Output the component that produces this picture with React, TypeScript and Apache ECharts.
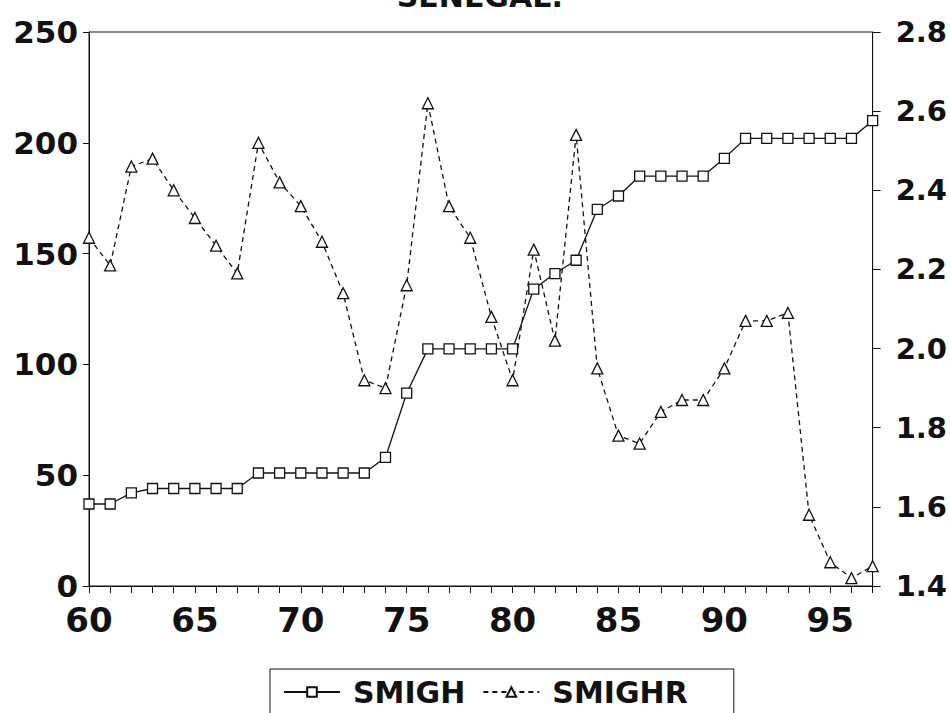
import React, { useEffect, useRef } from "react";
import * as echarts from "echarts";

const years = [60, 61, 62, 63, 64, 65, 66, 67, 68, 69, 70, 71, 72, 73, 74, 75, 76, 77, 78, 79, 80, 81, 82, 83, 84, 85, 86, 87, 88, 89, 90, 91, 92, 93, 94, 95, 96, 97];
const smigh = [37, 37, 42, 44, 44, 44, 44, 44, 51, 51, 51, 51, 51, 51, 58, 87, 107, 107, 107, 107, 107, 134, 141, 147, 170, 176, 185, 185, 185, 185, 193, 202, 202, 202, 202, 202, 202, 210];
const smighr = [2.28, 2.21, 2.46, 2.48, 2.40, 2.33, 2.26, 2.19, 2.52, 2.42, 2.36, 2.27, 2.14, 1.92, 1.90, 2.16, 2.62, 2.36, 2.28, 2.08, 1.92, 2.25, 2.02, 2.54, 1.95, 1.78, 1.76, 1.84, 1.87, 1.87, 1.95, 2.07, 2.07, 2.09, 1.58, 1.46, 1.42, 1.45];
const seriesNames = ["SMIGH", "SMIGHR"];
const titleText = "SENEGAL:";

const FONT = "DejaVu Sans";

export default function App() {
  const ref = useRef<HTMLDivElement>(null);
  useEffect(() => {
    if (!ref.current) return;
    const chart = echarts.init(ref.current, null, { renderer: "svg" });
    const labelStyle = { color: "#111", fontFamily: FONT, fontWeight: "bold" as const, fontSize: 31 };
    chart.setOption({
      animation: false,
      backgroundColor: "#fff",
      title: {
        text: titleText,
        left: 475,
        textAlign: "center",
        top: -24,
        textStyle: { color: "#111", fontFamily: FONT, fontWeight: "bold", fontSize: 30 },
      },
      grid: { left: 89, right: 77, top: 32, bottom: 127, show: true, borderColor: "#111", borderWidth: 1, backgroundColor: "transparent" },
      legend: {
        left: 270,
        top: 669,
        orient: "horizontal",
        data: seriesNames,
        borderColor: "#111",
        borderWidth: 1,
        borderRadius: 0,
        padding: [8, 46, 30, 13],
        itemWidth: 56,
        itemHeight: 12,
        itemGap: 17,
        textStyle: { color: "#111", fontFamily: FONT, fontWeight: "bold", fontSize: 30, padding: [0, 0, 0, 8] },
      },
      xAxis: {
        type: "value",
        min: 60,
        max: 97,
        interval: 1,
        axisLine: { show: true, lineStyle: { color: "#111", width: 1 } },
        axisTick: { show: true, inside: false, length: 7, lineStyle: { color: "#111" } },
        splitLine: { show: false },
        axisLabel: {
          ...labelStyle,
          fontSize: 34,
          margin: 17,
          formatter: (v: number) => (v % 5 === 0 ? String(v) : ""),
        },
      },
      yAxis: [
        {
          type: "value",
          min: 0,
          max: 250,
          interval: 50,
          position: "left",
          axisLine: { show: true, lineStyle: { color: "#111", width: 1 } },
          axisTick: { show: true, inside: false, length: 6, lineStyle: { color: "#111" } },
          splitLine: { show: false },
          axisLabel: { ...labelStyle, margin: 11 },
        },
        {
          type: "value",
          min: 1.4,
          max: 2.8,
          interval: 0.2,
          position: "right",
          axisLine: { show: true, lineStyle: { color: "#111", width: 1 } },
          axisTick: { show: true, inside: false, length: 8, lineStyle: { color: "#111" } },
          splitLine: { show: false },
          axisLabel: { ...labelStyle, fontSize: 29, margin: 23, formatter: (v: number) => v.toFixed(1) },
        },
      ],
      series: [
        {
          name: seriesNames[0],
          type: "line",
          yAxisIndex: 0,
          data: years.map((y, i) => [y, smigh[i]]),
          symbol: "rect",
          symbolSize: 10,
          showAllSymbol: true,
          lineStyle: { color: "#111", width: 1.3, type: "solid" },
          itemStyle: { color: "#fff", borderColor: "#111", borderWidth: 1.3 },
          z: 3,
        },
        {
          name: seriesNames[1],
          type: "line",
          yAxisIndex: 1,
          data: years.map((y, i) => [y, smighr[i]]),
          symbol: "triangle",
          symbolSize: 11,
          showAllSymbol: true,
          lineStyle: { color: "#111", width: 1.3, type: [5, 4] },
          itemStyle: { color: "#fff", borderColor: "#111", borderWidth: 1.3 },
          z: 2,
        },
      ],
    });
    return () => chart.dispose();
  }, []);
  return (
    <div
      ref={ref}
      style={{ position: "absolute", left: 0, top: 0, width: 950, height: 713, background: "#fff" }}
    />
  );
}
